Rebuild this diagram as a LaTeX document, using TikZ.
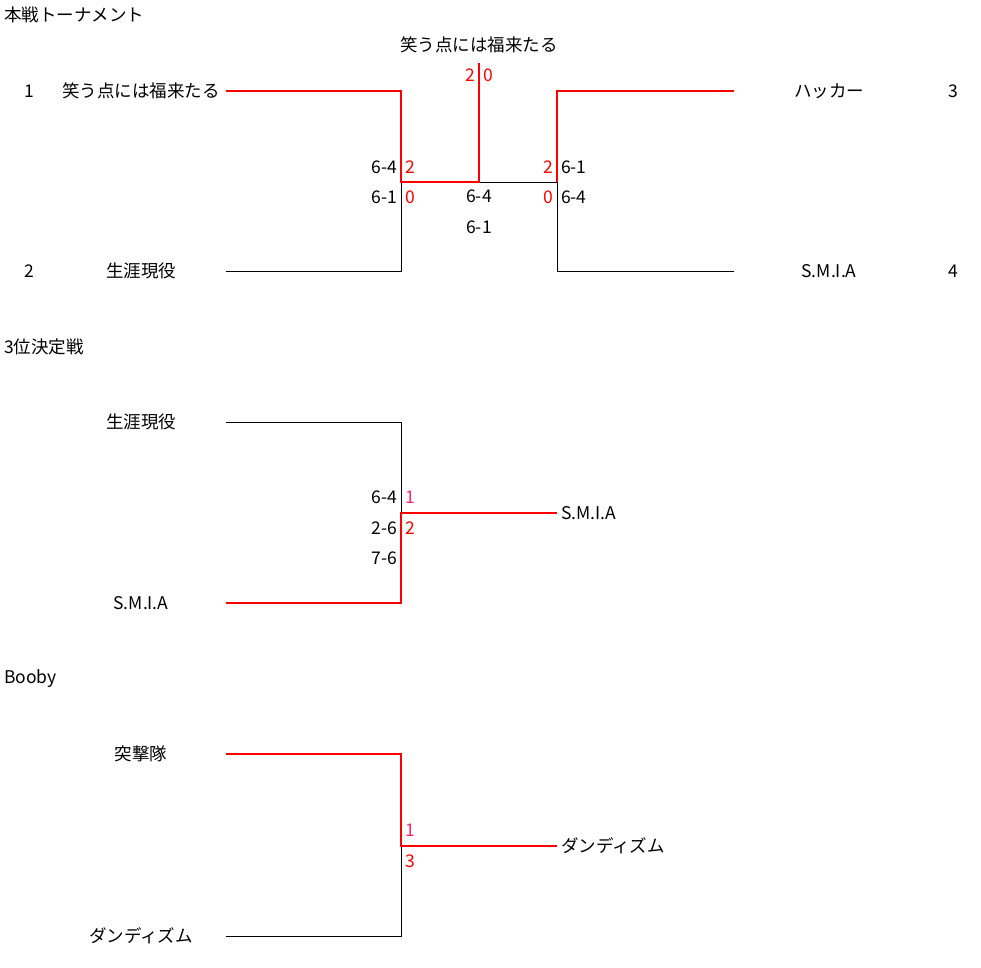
\documentclass[tikz,border=0pt]{standalone}
\usepackage{fontspec}
\setmainfont{Noto Sans CJK JP}
\definecolor{pinkred}{RGB}{255,40,110}
\begin{document}
\begin{tikzpicture}[x=1pt, y=-1pt,
    every node/.style={font=\fontsize{17.5}{20}\selectfont, inner sep=0pt},
    team/.style={minimum width=170pt, align=center},
    teamr/.style={minimum width=190pt, align=center},
    win/.style={draw=red, line width=1.8pt},
    lose/.style={draw=black, line width=0.8pt},
    pt/.style={text=red},
    ptp/.style={text=pinkred}]
    \useasboundingbox (0,0) rectangle (981,967);

    % Titoli
    \node (H1) at (4,15) [anchor=west] {本戦トーナメント};
    \node (H2) at (4,347) [anchor=west] {3位決定戦};
    \node (H3) at (4,679) [anchor=west] {Booby};

    % Torneo principale
    \node (N1) at (29,91) {1};
    \node (N2) at (29,271) {2};
    \node (N3) at (953,91) {3};
    \node (N4) at (953,271) {4};
    \node (A) at (141,91) [team] {笑う点には福来たる};
    \node (B) at (141,271) [team] {生涯現役};
    \node (C) at (829,91) [teamr] {ハッカー};
    \node (D) at (829,271) [teamr] {S.M.I.A};
    \node (W) at (479,45) {笑う点には福来たる};
    \coordinate (AB) at (401,182);
    \coordinate (CD) at (557,182);
    \coordinate (F) at (479,182);
    \coordinate (WT) at (479,63);

    \node (s1) at (397,167) [anchor=east] {6-4};
    \node (s2) at (397,197) [anchor=east] {6-1};
    \node (p1) at (405,167) [anchor=west, pt] {2};
    \node (p2) at (405,197) [anchor=west, pt] {0};
    \node (s3) at (561,167) [anchor=west] {6-1};
    \node (s4) at (561,197) [anchor=west] {6-4};
    \node (p3) at (553,167) [anchor=east, pt] {2};
    \node (p4) at (553,197) [anchor=east, pt] {0};
    \node (s5) at (479,196) {6-4};
    \node (s6) at (479,227) {6-1};
    \node (p5) at (475,75) [anchor=east, pt] {2};
    \node (p6) at (483,75) [anchor=west, pt] {0};

    \draw[lose] (B.east) -| (AB);
    \draw[lose] (D.west) -| (CD);
    \draw[lose] (F) -- (CD);
    \draw[win] (C.west) -| (CD);
    \draw[win] (A.east) -| (AB) -- (F) -- (WT);

    % Finale 3-4 posto
    \node (E) at (141,422) [team] {生涯現役};
    \node (G) at (141,603) [team] {S.M.I.A};
    \node (T) at (557,513) [anchor=west, inner xsep=4pt] {S.M.I.A};
    \coordinate (EG) at (401,513);
    \node (s7) at (397,497) [anchor=east] {6-4};
    \node (s8) at (397,528) [anchor=east] {2-6};
    \node (s9) at (397,558) [anchor=east] {7-6};
    \node (p7) at (405,497) [anchor=west, ptp] {1};
    \node (p8) at (405,528) [anchor=west, pt] {2};
    \draw[lose] (E.east) -| (EG);
    \draw[win] (G.east) -| (EG) -- (T.west);

    % Booby
    \node (K) at (141,754) [team] {突撃隊};
    \node (L) at (141,936) [team] {ダンディズム};
    \node (U) at (557,846) [anchor=west, inner xsep=4pt] {ダンディズム};
    \coordinate (KL) at (401,846);
    \node (p9) at (405,830) [anchor=west, ptp] {1};
    \node (p10) at (405,861) [anchor=west, pt] {3};
    \draw[lose] (L.east) -| (KL);
    \draw[win] (K.east) -| (KL) -- (U.west);
\end{tikzpicture}
\end{document}
